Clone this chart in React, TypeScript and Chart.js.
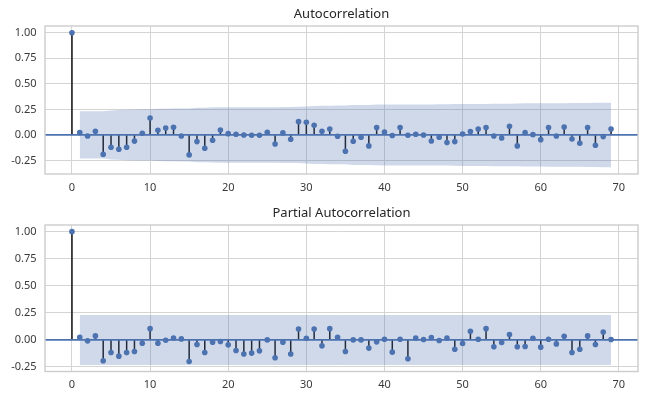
import React, { useEffect, useRef } from "react";
import { Chart, registerables } from "chart.js";

Chart.register(...registerables);

// ---- data ----
const lags: number[] = Array.from({ length: 70 }, (_, i) => i);

const acfValues: number[] = [
  1.0, 0.023, -0.01, 0.036, -0.19, -0.12, -0.14, -0.12, -0.06, 0.016,
  0.166, 0.046, 0.068, 0.075, -0.01, -0.195, -0.065, -0.13, -0.052, 0.049,
  0.013, 0.007, 0.0, -0.003, -0.003, 0.026, -0.088, 0.02, -0.042, 0.13,
  0.124, 0.094, 0.036, 0.059, -0.013, -0.16, -0.062, -0.023, -0.107, 0.072,
  0.029, -0.005, 0.072, -0.003, 0.007, 0.0, -0.059, -0.023, -0.075, -0.065,
  0.01, 0.033, 0.059, 0.072, -0.01, -0.03, 0.085, -0.107, 0.023, 0.003,
  -0.046, 0.072, -0.01, 0.078, -0.039, -0.081, 0.072, -0.1, -0.016, 0.059,
];

const pacfValues: number[] = [
  1.0, 0.024, -0.009, 0.037, -0.193, -0.116, -0.15, -0.116, -0.107, -0.031,
  0.104, -0.031, -0.003, 0.018, 0.009, -0.199, -0.043, -0.116, -0.021, -0.015,
  -0.046, -0.098, -0.131, -0.122, -0.101, 0.0, -0.165, -0.021, -0.131, 0.101,
  0.015, 0.101, -0.055, 0.104, 0.024, -0.107, 0.0, 0.0, -0.076, -0.018,
  0.006, -0.113, 0.006, -0.174, 0.018, 0.003, 0.021, -0.006, 0.018, -0.086,
  -0.034, 0.08, 0.006, 0.104, -0.064, -0.024, 0.049, -0.064, -0.061, 0.015,
  -0.067, 0.006, -0.037, 0.034, -0.116, -0.086, 0.037, -0.043, 0.073, 0.003,
];

// confidence half-width for lags 1..69
const acfBand: number[] = [
  0.231, 0.231, 0.231, 0.231, 0.239, 0.243, 0.247, 0.25, 0.251, 0.251,
  0.256, 0.257, 0.258, 0.259, 0.259, 0.266, 0.267, 0.27, 0.271, 0.271,
  0.271, 0.271, 0.271, 0.271, 0.271, 0.272, 0.274, 0.274, 0.275, 0.279,
  0.283, 0.285, 0.286, 0.287, 0.287, 0.293, 0.294, 0.294, 0.297, 0.298,
  0.298, 0.298, 0.299, 0.299, 0.299, 0.299, 0.3, 0.3, 0.302, 0.303,
  0.303, 0.303, 0.304, 0.305, 0.305, 0.305, 0.307, 0.309, 0.309, 0.309,
  0.31, 0.311, 0.311, 0.312, 0.312, 0.313, 0.314, 0.316, 0.316,
];
const pacfBandWidth = 0.231;
const pacfBand: number[] = lags.slice(1).map(() => pacfBandWidth);

const xTicks: number[] = [0, 10, 20, 30, 40, 50, 60, 70];
const yTicks: number[] = [-0.25, 0, 0.25, 0.5, 0.75, 1.0];

const titles = ["Autocorrelation", "Partial Autocorrelation"];

// ---- styling ----
const BLUE = "#4c72b0";
const GRID = "#d4d4d4";
const FRAME = "#cccccc";
const TEXT = "#3a3a3a";
const FONT = "'Noto Sans', 'DejaVu Sans', sans-serif";
const X_MIN = -3.45;
const X_MAX = 72.45;

type PlotProps = {
  title: string;
  values: number[];
  band: number[];
  yMin: number;
  yMax: number;
  top: number;
  height: number;
  padTop: number;
  xAxisHeight: number;
};

function CorrPlot(props: PlotProps) {
  const ref = useRef<HTMLCanvasElement | null>(null);

  useEffect(() => {
    if (!ref.current) return;
    const { title, values, band, yMin, yMax, padTop, xAxisHeight } = props;

    const stems: any[] = [];
    lags.forEach((k, i) => {
      stems.push({ x: k, y: 0 });
      stems.push({ x: k, y: values[i] });
      stems.push({ x: k, y: null });
    });
    const markers = lags.map((k, i) => ({ x: k, y: values[i] }));
    const upper = lags.slice(1).map((k, i) => ({ x: k, y: band[i] }));
    const lower = lags.slice(1).map((k, i) => ({ x: k, y: -band[i] }));

    const framePlugin = {
      id: "frameAndTitle",
      afterDraw(chart: any) {
        const { ctx, chartArea } = chart;
        ctx.save();
        ctx.strokeStyle = FRAME;
        ctx.lineWidth = 1.4;
        ctx.strokeRect(
          chartArea.left,
          chartArea.top,
          chartArea.right - chartArea.left,
          chartArea.bottom - chartArea.top
        );
        ctx.fillStyle = "#262626";
        ctx.font = `13px ${FONT}`;
        ctx.textAlign = "center";
        ctx.textBaseline = "middle";
        ctx.fillText(title, (chartArea.left + chartArea.right) / 2, chartArea.top - 11.5);
        ctx.restore();
      },
    };

    const chart = new Chart(ref.current, {
      type: "line",
      data: {
        datasets: [
          {
            label: "stems",
            data: stems,
            borderColor: "#111111",
            borderWidth: 1.5,
            pointRadius: 0,
            spanGaps: false,
            order: 4,
          },
          {
            label: "zero",
            data: [
              { x: X_MIN, y: 0 },
              { x: X_MAX, y: 0 },
            ],
            borderColor: BLUE,
            borderWidth: 1.8,
            pointRadius: 0,
            order: 3,
          },
          {
            label: "values",
            data: markers,
            showLine: false,
            pointRadius: 2.8,
            pointBackgroundColor: BLUE,
            pointBorderWidth: 0,
            pointBorderColor: BLUE,
            order: 2,
          },
          {
            label: "upper",
            data: upper,
            borderWidth: 0,
            borderColor: "rgba(0,0,0,0)",
            pointRadius: 0,
            fill: "+1",
            backgroundColor: "rgba(76,114,176,0.27)",
            order: 1,
          },
          {
            label: "lower",
            data: lower,
            borderWidth: 0,
            borderColor: "rgba(0,0,0,0)",
            pointRadius: 0,
            fill: false,
            order: 0,
          },
        ] as any,
      },
      options: {
        responsive: false,
        animation: false,
        devicePixelRatio: 1,
        layout: { padding: { top: padTop, left: 0, right: 21, bottom: 0 } },
        plugins: {
          legend: { display: false },
          tooltip: { enabled: false },
          title: { display: false },
        },
        scales: {
          x: {
            type: "linear",
            min: X_MIN,
            max: X_MAX,
            afterBuildTicks: (axis: any) => {
              axis.ticks = xTicks.map((v) => ({ value: v }));
            },
            afterFit: (axis: any) => {
              axis.height = xAxisHeight;
            },
            grid: { color: GRID, lineWidth: 1, drawTicks: false },
            border: { display: false },
            ticks: {
              autoSkip: false,
              maxRotation: 0,
              padding: 7,
              color: TEXT,
              font: { family: FONT, size: 11 },
              callback: (v: any) => String(v),
            },
          },
          y: {
            type: "linear",
            min: yMin,
            max: yMax,
            afterBuildTicks: (axis: any) => {
              axis.ticks = yTicks.map((v) => ({ value: v }));
            },
            afterFit: (axis: any) => {
              axis.width = 45;
            },
            grid: { color: GRID, lineWidth: 1, drawTicks: false },
            border: { display: false },
            ticks: {
              padding: 8.5,
              color: TEXT,
              font: { family: FONT, size: 11 },
              callback: (v: any) => Number(v).toFixed(2),
            },
          },
        },
      } as any,
      plugins: [framePlugin],
    });

    return () => {
      chart.destroy();
    };
  }, []);

  return (
    <canvas
      ref={ref}
      width={659}
      height={props.height}
      style={{
        position: "absolute",
        left: 0,
        top: props.top,
        width: 659,
        height: props.height,
        display: "block",
      }}
    />
  );
}

export default function App() {
  return (
    <div
      style={{
        position: "absolute",
        left: 0,
        top: 0,
        width: 659,
        height: 402,
        background: "#ffffff",
      }}
    >
      <CorrPlot
        title={titles[0]}
        values={acfValues}
        band={acfBand}
        yMin={-0.382}
        yMax={1.066}
        top={0}
        height={200}
        padTop={26}
        xAxisHeight={26}
      />
      <CorrPlot
        title={titles[1]}
        values={pacfValues}
        band={pacfBand}
        yMin={-0.292}
        yMax={1.0615}
        top={200}
        height={202}
        padTop={25}
        xAxisHeight={30.5}
      />
    </div>
  );
}
